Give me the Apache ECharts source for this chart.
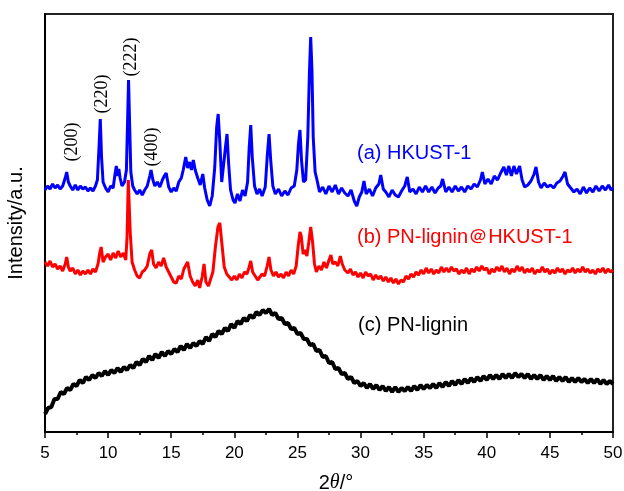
<!DOCTYPE html>
<html>
<head>
<meta charset="utf-8">
<script src="https://cdn.jsdelivr.net/npm/echarts@6/dist/echarts.min.js"></script>
<style>
  html, body { margin: 0; padding: 0; background: #fff; }
  #xrd_chart { width: 624px; height: 491px; }
</style>
</head>
<body>
<div id="xrd_chart"></div>
<script>
// 2theta (deg), intensity (a.u., offset traces)
var hkust = [
  [5.0,242],[5.2,246],[5.4,243],[5.6,248],[5.8,244],[6.0,247],[6.2,243],[6.4,246],[6.6,254],[6.72,260],[6.85,250],
  [7.0,246],[7.2,242],[7.4,247],[7.6,242],[7.8,246],[8.0,243],[8.2,245],[8.4,241],[8.6,244],[8.8,241],[9.0,246],
  [9.15,252],[9.28,285],[9.38,313],[9.48,275],[9.6,250],[9.8,244],[10.0,240],[10.2,246],[10.4,244],[10.55,258],
  [10.65,266],[10.75,256],[10.85,263],[10.95,254],[11.1,246],[11.3,250],[11.45,262],[11.55,315],[11.62,352],
  [11.7,310],[11.8,260],[11.95,246],[12.1,242],[12.3,238],[12.5,242],[12.7,237],[12.9,242],[13.1,246],[13.3,256],
  [13.4,262],[13.55,252],[13.7,246],[13.9,250],[14.1,245],[14.3,252],[14.45,256],[14.6,259],[14.8,245],[15.0,240],
  [15.2,244],[15.4,241],[15.6,250],[15.8,254],[15.95,262],[16.15,275],[16.3,264],[16.45,270],[16.6,262],[16.75,272],
  [16.9,262],[17.1,254],[17.3,247],[17.5,258],[17.65,244],[17.85,232],[18.05,226],[18.25,236],[18.45,265],[18.6,305],
  [18.72,318],[18.85,290],[19.0,250],[19.15,252],[19.3,285],[19.42,298],[19.55,268],[19.7,242],[19.9,232],[20.05,229],
  [20.25,238],[20.45,231],[20.65,242],[20.85,236],[21.05,250],[21.18,285],[21.3,307],[21.42,275],[21.6,246],[21.8,238],
  [22.0,243],[22.2,236],[22.45,245],[22.62,278],[22.75,298],[22.88,272],[23.05,246],[23.25,238],[23.5,243],[23.75,236],
  [24.0,241],[24.25,237],[24.5,244],[24.75,246],[24.95,262],[25.08,288],[25.2,302],[25.32,272],[25.48,250],[25.65,252],
  [25.82,295],[25.95,360],[26.05,395],[26.15,362],[26.25,295],[26.4,260],[26.55,252],[26.75,240],[27.0,245],[27.25,238],
  [27.5,246],[27.75,240],[28.0,247],[28.25,238],[28.5,244],[28.75,239],[29.0,236],[29.25,242],[29.5,231],[29.7,226],
  [29.9,235],[30.1,240],[30.27,251],[30.45,238],[30.7,243],[30.95,236],[31.2,244],[31.45,248],[31.6,257],[31.8,243],
  [32.0,240],[32.25,235],[32.5,242],[32.75,237],[33.0,235],[33.25,241],[33.5,246],[33.7,255],[33.9,240],[34.15,243],
  [34.4,238],[34.65,245],[34.9,240],[35.15,246],[35.4,240],[35.65,245],[35.9,239],[36.15,244],[36.35,246],[36.5,253],
  [36.75,240],[37.0,245],[37.25,240],[37.5,246],[37.75,241],[38.0,245],[38.25,240],[38.5,246],[38.75,243],[39.0,248],
  [39.25,245],[39.5,252],[39.65,260],[39.85,248],[40.1,253],[40.35,248],[40.6,256],[40.85,252],[41.1,259],[41.35,265],
  [41.55,257],[41.75,266],[41.95,256],[42.15,266],[42.35,258],[42.6,266],[42.8,252],[43.0,245],[43.25,247],[43.5,251],
  [43.75,258],[43.9,265],[44.1,250],[44.3,244],[44.55,249],[44.8,245],[45.05,247],[45.3,244],[45.55,249],[45.8,251],
  [46.05,256],[46.2,260],[46.4,248],[46.65,244],[46.9,240],[47.15,243],[47.4,238],[47.65,245],[47.9,239],[48.15,244],
  [48.4,240],[48.65,246],[48.9,241],[49.15,246],[49.4,242],[49.65,247],[49.85,242],[50.0,244]
];

var composite = [
  [5.0,170],[5.2,166],[5.4,171],[5.6,165],[5.8,168],[6.0,163],[6.2,166],[6.4,161],[6.6,168],[6.72,175],[6.85,165],
  [7.0,161],[7.2,164],[7.4,158],[7.6,162],[7.8,157],[8.0,161],[8.2,158],[8.4,162],[8.6,158],[8.8,163],[9.0,160],
  [9.2,168],[9.35,180],[9.45,185],[9.6,170],[9.8,175],[10.0,178],[10.2,172],[10.4,179],[10.6,174],[10.8,181],
  [11.0,175],[11.2,179],[11.4,172],[11.5,195],[11.6,252],[11.65,250],[11.75,200],[11.9,170],[12.1,162],[12.3,156],
  [12.5,154],[12.7,160],[12.9,162],[13.1,166],[13.3,178],[13.45,182],[13.6,168],[13.8,164],[14.0,170],[14.2,166],
  [14.4,174],[14.6,165],[14.8,160],[15.0,155],[15.2,150],[15.4,149],[15.6,156],[15.8,153],[16.0,163],[16.3,170],
  [16.5,156],[16.7,150],[16.9,146],[17.1,152],[17.25,144],[17.45,155],[17.6,168],[17.75,150],[17.95,146],[18.1,145],
  [18.3,160],[18.5,185],[18.7,205],[18.85,209],[19.0,190],[19.2,165],[19.4,158],[19.6,155],[19.8,152],[20.0,156],
  [20.2,152],[20.4,158],[20.6,154],[20.8,160],[21.0,158],[21.15,164],[21.3,171],[21.45,160],[21.65,156],[21.85,152],
  [22.0,154],[22.2,158],[22.4,156],[22.6,166],[22.75,175],[22.9,162],[23.1,156],[23.3,160],[23.5,155],[23.7,158],
  [23.9,154],[24.1,160],[24.3,156],[24.5,162],[24.7,158],[24.9,166],[25.05,185],[25.2,200],[25.3,196],[25.45,178],
  [25.6,182],[25.75,176],[25.9,190],[26.05,205],[26.2,190],[26.35,168],[26.5,160],[26.7,166],[26.9,162],[27.1,170],
  [27.3,164],[27.5,172],[27.65,177],[27.8,168],[28.0,170],[28.2,166],[28.4,176],[28.55,168],[28.75,162],[29.0,159],
  [29.2,163],[29.4,157],[29.6,160],[29.8,155],[30.0,159],[30.2,154],[30.4,160],[30.6,156],[30.8,158],[31.0,152],
  [31.2,157],[31.4,153],[31.6,156],[31.8,151],[32.0,155],[32.2,150],[32.4,154],[32.6,149],[32.8,153],[33.0,148],
  [33.2,152],[33.4,150],[33.6,156],[33.8,153],[34.0,158],[34.2,155],[34.4,160],[34.6,157],[34.8,162],[35.0,158],
  [35.2,164],[35.4,159],[35.6,163],[35.8,158],[36.0,162],[36.2,159],[36.4,165],[36.6,160],[36.8,164],[37.0,160],
  [37.2,165],[37.4,161],[37.6,163],[37.8,158],[38.0,162],[38.2,159],[38.4,164],[38.6,158],[38.8,163],[39.0,160],
  [39.2,165],[39.4,161],[39.6,166],[39.8,162],[40.0,164],[40.2,158],[40.4,163],[40.6,160],[40.8,165],[41.0,161],
  [41.2,166],[41.4,160],[41.6,164],[41.8,158],[42.0,163],[42.2,160],[42.4,166],[42.6,161],[42.8,165],[43.0,159],
  [43.2,163],[43.4,160],[43.6,164],[43.8,158],[44.0,162],[44.2,160],[44.4,165],[44.6,160],[44.8,163],[45.0,158],
  [45.2,162],[45.4,159],[45.6,164],[45.8,160],[46.0,163],[46.2,158],[46.4,162],[46.6,160],[46.8,164],[47.0,159],
  [47.2,163],[47.4,160],[47.6,165],[47.8,160],[48.0,163],[48.2,159],[48.4,162],[48.6,158],[48.8,163],[49.0,160],
  [49.2,164],[49.4,159],[49.6,163],[49.8,160],[50.0,162]
];

var lignin = [
  [5.0,18],[5.25,24],[5.5,25],[5.75,33],[6.0,33],[6.25,40],[6.5,38],[6.75,44],[7.0,42],[7.25,48],[7.5,46],[7.75,52],
  [8.0,49],[8.25,55],[8.5,52],[8.75,57],[9.0,54],[9.25,59],[9.5,56],[9.75,61],[10.0,57],[10.25,62],[10.5,59],[10.75,64],
  [11.0,60],[11.25,65],[11.5,62],[11.75,67],[12.0,64],[12.25,70],[12.5,67],[12.75,73],[13.0,70],[13.25,76],[13.5,72],
  [13.75,78],[14.0,74],[14.25,80],[14.5,76],[14.75,81],[15.0,78],[15.25,83],[15.5,80],[15.75,86],[16.0,82],[16.25,88],
  [16.5,84],[16.75,89],[17.0,86],[17.25,91],[17.5,88],[17.75,95],[18.0,91],[18.25,98],[18.5,95],[18.75,101],[19.0,98],
  [19.25,104],[19.5,101],[19.75,108],[20.0,104],[20.25,111],[20.5,108],[20.75,114],[21.0,111],[21.25,117],[21.5,114],
  [21.75,120],[22.0,117],[22.25,122],[22.5,119],[22.75,123],[23.0,117],[23.25,119],[23.5,113],[23.75,114],[24.0,108],
  [24.25,109],[24.5,103],[24.75,104],[25.0,98],[25.25,99],[25.5,93],[25.75,93],[26.0,87],[26.25,88],[26.5,81],[26.75,82],
  [27.0,75],[27.25,76],[27.5,69],[27.75,70],[28.0,63],[28.25,64],[28.5,58],[28.75,59],[29.0,53],[29.25,55],[29.5,49],
  [29.75,51],[30.0,46],[30.25,49],[30.5,44],[30.75,48],[31.0,43],[31.25,47],[31.5,42],[31.75,46],[32.0,41],[32.25,45],
  [32.5,40],[32.75,45],[33.0,40],[33.25,44],[33.5,41],[33.75,45],[34.0,41],[34.25,46],[34.5,42],[34.75,47],[35.0,43],
  [35.25,47],[35.5,44],[35.75,48],[36.0,44],[36.25,49],[36.5,45],[36.75,50],[37.0,46],[37.25,51],[37.5,47],[37.75,52],
  [38.0,48],[38.25,53],[38.5,49],[38.75,54],[39.0,50],[39.25,55],[39.5,51],[39.75,56],[40.0,52],[40.25,57],[40.5,53],
  [40.75,57],[41.0,53],[41.25,58],[41.5,54],[41.75,58],[42.0,54],[42.25,59],[42.5,55],[42.75,58],[43.0,54],[43.25,58],
  [43.5,53],[43.75,57],[44.0,53],[44.25,57],[44.5,52],[44.75,56],[45.0,52],[45.25,56],[45.5,51],[45.75,55],[46.0,51],
  [46.25,55],[46.5,50],[46.75,54],[47.0,50],[47.25,54],[47.5,50],[47.75,53],[48.0,49],[48.25,53],[48.5,49],[48.75,53],
  [49.0,48],[49.25,52],[49.5,48],[49.75,51],[50.0,48]
];

var seriesNames = ["(a) HKUST-1", "(b) PN-lignin\uFF20HKUST-1", "(c) PN-lignin"];
var seriesColors = ["#0000ff", "#ff0000", "#000000"];
var peakLabels = ["(200)", "(220)", "(222)", "(400)"];

var chartDom = document.getElementById("xrd_chart");
var myChart = echarts.init(chartDom);
var option;

var fontMain = "Liberation Sans, Arial, sans-serif";

function peakText(txt, x, y) {
  return {
    type: "text",
    x: x,
    y: y,
    rotation: Math.PI / 2,
    style: {
      text: txt,
      align: "center",
      verticalAlign: "middle",
      fill: "#000",
      font: "18px 'Liberation Serif', 'Times New Roman', serif",
    },
  };
}

function nameText(txt, color, x, y) {
  return {
    type: "text",
    left: x,
    top: y,
    style: {
      text: txt,
      fill: color,
      font: "20px " + fontMain,
    },
  };
}

option = {
  animation: false,
  backgroundColor: "#fff",
  grid: {
    left: 45,
    right: 11,
    top: 14,
    bottom: 59,
    outerBoundsMode: "none",
    show: true,
    borderColor: "#222",
    borderWidth: 2,
  },
  xAxis: {
    type: "value",
    min: 5,
    max: 50,
    interval: 5,
    name: "{n|2}{i|\u03B8}{n|/\u00B0}",
    nameLocation: "middle",
    nameGap: 41,
    nameTextStyle: {
      padding: [0, 0, 0, 14],
      rich: {
        n: { fontSize: 20, fontFamily: fontMain, color: "#000" },
        i: { fontSize: 20, fontFamily: "'Liberation Serif', serif", fontStyle: "italic", color: "#000" },
      },
    },
    axisLine: { lineStyle: { color: "#000", width: 2 } },
    axisTick: { length: 6, lineStyle: { color: "#000", width: 1.5 } },
    minorTick: { show: true, splitNumber: 2, length: 3, lineStyle: { color: "#000", width: 1.5 } },
    axisLabel: { color: "#000", fontSize: 17, fontFamily: fontMain, margin: 13 },
    splitLine: { show: false },
  },
  yAxis: {
    type: "value",
    min: 0,
    max: 418,
    name: "Intensity/a.u.",
    nameLocation: "middle",
    nameGap: 19,
    nameTextStyle: { color: "#000", fontSize: 20, fontFamily: fontMain },
    axisLine: { show: true, lineStyle: { color: "#000", width: 2 } },
    axisTick: { show: false },
    axisLabel: { show: false },
    splitLine: { show: false },
  },
  series: [
    {
      name: seriesNames[0],
      type: "line",
      data: hkust,
      showSymbol: false,
      lineStyle: { color: seriesColors[0], width: 3 },
      z: 3,
    },
    {
      name: seriesNames[1],
      type: "line",
      data: composite,
      showSymbol: false,
      lineStyle: { color: seriesColors[1], width: 3 },
      z: 4,
    },
    {
      name: seriesNames[2],
      type: "line",
      data: lignin,
      showSymbol: false,
      lineStyle: { color: seriesColors[2], width: 4 },
      z: 2,
    },
  ],
  graphic: [
    peakText(peakLabels[0], 72, 142),
    peakText(peakLabels[1], 102, 94),
    peakText(peakLabels[2], 131, 57),
    peakText(peakLabels[3], 152, 147),
    nameText(seriesNames[0], seriesColors[0], 357, 143),
    nameText(seriesNames[1], seriesColors[1], 357, 227),
    nameText(seriesNames[2], seriesColors[2], 358, 315),
  ],
};

option && myChart.setOption(option);
</script>
</body>
</html>
